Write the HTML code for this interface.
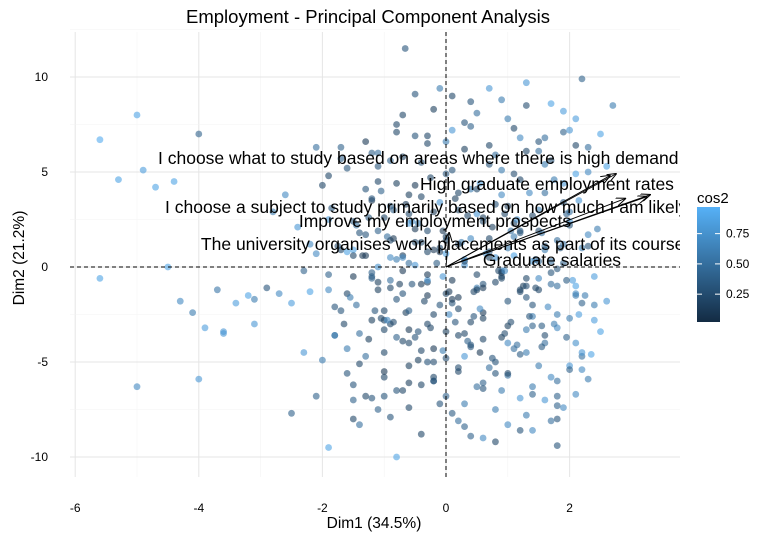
<!DOCTYPE html>
<html><head><meta charset="utf-8">
<style>
body{margin:0;background:#fff;font-family:"Liberation Sans",sans-serif;}
svg text{font-family:"Liberation Sans",sans-serif;}
</style></head>
<body>
<svg id="chart" width="776" height="542" xmlns="http://www.w3.org/2000/svg">
<rect width="776" height="542" fill="#fff"/>
<g id="grid"></g>
<g id="points"></g>
<g id="axes"></g>
<g id="arrows"></g>
<text x="368" y="23" font-size="18.5" text-anchor="middle" fill="#000">Employment - Principal Component Analysis</text>
<text x="374" y="528" font-size="15.5" text-anchor="middle" fill="#000">Dim1 (34.5%)</text>
<text transform="translate(24,258) rotate(-90)" font-size="15.5" text-anchor="middle" fill="#000">Dim2 (21.2%)</text>
<g>
<defs><linearGradient id="lg" x1="0" y1="1" x2="0" y2="0"><stop offset="0" stop-color="#132B43"/><stop offset="1" stop-color="#56B1F7"/></linearGradient></defs>
<text x="697" y="203" font-size="15" fill="#000">cos2</text>
<rect x="697" y="207" width="23" height="115" fill="url(#lg)"/>
<g id="legticks"></g>
</g>
</svg>
<script>
const xTicks=[-6,-4,-2,0,2];
const yTicks=[-10,-5,0,5,10];
const legendTicks=[0.25,0.5,0.75];
const varNames=["I choose what to study based on areas where there is high demand for employment","High graduate employment rates","I choose a subject to study primarily based on how much I am likely to earn","Improve my employment prospects","The university organises work placements as part of its courses","Graduate salaries"];
const varX=[2.75,2.65,3.3,0.05,3.25,2.9];
const varY=[4.9,4.8,3.8,1.8,3.7,3.6];
const labelX=[158,547,165,435,447,552];
const labelY=[164,190,213,227,250,266];
const labelAnchor=["start","middle","start","middle","middle","middle"];
const ptX=[-5.6,-5.6,-5.0,-5.0,-5.3,-4.7,-4.0,-4.0,-4.4,-3.9,-3.6,-3.6,-4.9,-4.5,-4.3,-4.1,-3.7,-3.4,-3.2,-3.1,-3.1,-2.9,-2.7,-2.5,-2.5,-2.3,-2.2,-2.1,-2.0,-1.9,-1.9,-1.8,-1.7,-1.6,-1.5,-1.5,-1.4,-1.3,-1.2,-1.2,-1.1,-1.0,-1.0,-0.9,-0.8,-0.8,-0.7,-0.66,-0.6,-0.5,-0.4,-0.3,-0.2,-0.1,0.0,0.1,0.2,0.3,0.4,0.5,0.6,0.7,0.8,0.9,1.0,1.1,1.2,1.3,1.4,1.5,1.6,1.7,1.8,1.9,2.0,2.1,2.2,2.3,2.4,2.5,2.6,2.7,2.2,1.8,
-2.6,-2.4,-2.1,-1.9,-1.7,-1.5,-1.3,-1.1,-0.9,-0.7,-0.5,-0.3,-0.1,0.1,0.3,0.5,0.7,0.9,1.1,1.3,1.5,1.7,1.9,2.1,2.3,2.5,
-1.8,-1.6,-1.4,-1.2,-1.0,-0.8,-0.6,-0.4,-0.2,0.0,0.2,0.4,0.6,0.8,1.0,1.2,1.4,1.6,1.8,2.0,2.2,2.4,
-1.4,-1.2,-1.0,-0.8,-0.6,-0.4,-0.2,0.0,0.2,0.4,0.6,0.8,1.0,1.2,1.4,1.6,1.8,2.0,
-2.0,-1.7,-1.5,-1.3,-1.1,-0.9,-0.7,-0.5,-0.3,-0.1,0.1,0.3,0.5,0.7,0.9,1.1,1.3,1.5,1.7,1.9,2.1,2.3,2.6,
-1.6,-1.3,-1.0,-0.8,-0.6,-0.4,-0.2,0.0,0.2,0.4,0.6,0.8,1.0,1.2,1.4,1.6,1.8,2.0,2.2,
-1.2,-0.9,-0.6,-0.3,0.0,0.3,0.6,0.9,1.2,1.5,1.8,2.1,
-0.8,-0.5,-0.2,0.1,0.4,0.7,1.0,1.3,1.6,1.9,
-2.8,-2.2,-1.9,-1.6,-1.1,-0.7,-0.3,0.2,0.6,1.0,1.4,1.9,2.3,
-0.9,-0.4,0.3,0.8,1.3,1.7,2.1,
-0.5,0.0,0.5,1.1,1.6,2.0,
-1.0,-0.6,-0.1,0.4,0.9,1.4,
-0.3,0.2,0.6,1.0,1.5,-0.7,-1.1,-1.5,0.1,0.5,0.9,1.3,-0.2,-0.6,
-1.9,-1.75,-1.55,-1.35,-1.15,-0.95,-0.75,-0.55,-0.35,-0.15,0.05,0.25,0.45,0.65,0.85,1.05,1.25,1.45,1.65,1.85,2.05,2.25,
-1.85,-1.65,-1.45,-1.25,-1.05,-0.85,-0.65,-0.45,-0.25,-0.05,0.15,0.35,0.55,0.75,0.95,1.15,1.35,1.55,1.75,1.95,2.15,2.35,
-1.7,-1.5,-1.3,-1.1,-0.9,-0.7,-0.5,-0.3,-0.1,0.1,0.3,0.5,0.7,0.9,1.1,1.3,1.5,1.7,1.9,2.1,2.3,
-1.6,-1.4,-1.2,-1.0,-0.8,-0.6,-0.4,-0.2,0.0,0.2,0.4,0.6,0.8,1.0,1.2,1.4,1.6,1.8,2.0,2.2,
-1.45,-1.25,-1.05,-0.85,-0.65,-0.45,-0.25,-0.05,0.15,0.35,0.55,0.75,0.95,1.15,1.35,1.55,1.75,1.95,2.15,2.45,
-1.3,-1.1,-0.9,-0.7,-0.5,-0.3,-0.1,0.1,0.3,0.5,0.7,0.9,1.1,1.3,1.5,1.7,1.9,2.1,
-1.2,-1.0,-0.8,-0.6,-0.4,-0.2,0.0,0.2,0.4,0.6,0.8,1.0,1.2,1.4,1.6,1.8,2.0,
-1.1,-0.85,-0.55,-0.3,-0.05,0.2,0.45,0.7,0.95,1.2,1.45,1.7,1.95,2.2,
-2.3,-2.1,-1.8,-1.5,-1.2,-0.9,-0.6,-0.3,0.0,0.3,0.6,0.9,1.2,1.5,1.8,2.1,2.4,
-0.95,-0.7,-0.45,-0.2,0.05,0.3,0.55,0.8,1.05,1.3,1.55,1.8];
const ptY=[6.7,-0.6,8.0,-6.3,4.6,4.2,7.0,-5.9,4.5,-3.2,-3.4,-3.5,5.1,0.0,-1.8,-2.4,-1.2,-1.9,-1.5,-3.0,-1.7,-1.1,-1.4,-7.7,-1.9,-4.5,-1.3,-6.8,-4.9,-1.2,-9.5,-3.6,-2.3,-4.3,-6.2,-8.0,-8.3,-6.8,-0.5,-2.8,-7.5,-4.5,-6.8,-3.0,-6.5,-10.0,-6.5,11.5,-7.4,-3.7,-6.2,-3.0,-5.0,-7.2,-6.8,-7.7,-8.1,-7.2,-8.9,-6.3,-9.0,-5.3,-7.5,-6.5,-8.3,-4.3,-6.9,-4.5,-8.6,-5.2,-7.0,-5.8,-9.4,-7.4,-5.2,-4.0,9.9,-5.9,-2.8,-3.4,-1.8,8.5,-4.7,-8.0,
3.8,2.1,6.3,2.5,6.3,0.9,4.1,6.0,5.6,8.0,9.1,6.5,9.4,9.0,7.6,8.1,9.4,8.8,7.3,9.7,6.6,8.6,7.1,7.8,6.3,7.0,
-2.1,-1.4,-3.5,-0.6,-2.8,-1.7,-4.0,-0.9,-2.5,-3.4,-1.6,-4.1,-2.4,-0.8,-3.1,-1.3,-2.0,-3.6,-1.0,-2.7,-1.9,-0.5,
1.8,3.5,2.6,0.4,3.8,1.3,2.9,0.7,3.9,1.5,2.6,0.5,3.2,1.9,2.7,0.9,1.4,2.2,
4.3,5.7,2.4,6.6,4.5,3.2,5.8,4.3,6.9,3.4,5.1,6.2,4.1,5.4,3.8,4.9,6.1,3.0,5.6,4.4,6.4,5.0,5.3,
-5.6,-4.7,-5.8,-3.7,-5.2,-4.4,-6.0,-4.8,-5.5,-4.2,-6.1,-5.0,-5.7,-4.6,-6.3,-4.0,-3.2,-5.4,-4.5,
-0.3,-1.1,0.2,-0.8,-1.4,0.1,-0.9,-0.2,-1.2,-0.6,-0.1,-1.0,
7.5,6.9,8.3,7.2,8.7,6.4,7.8,8.5,6.8,8.2,
2.9,1.2,4.8,0.8,5.3,0.6,1.9,3.0,2.4,1.0,0.3,3.4,1.7,
-7.9,-8.8,-8.4,-9.2,-7.8,-8.1,-6.7,
2.0,1.6,2.8,2.3,1.1,2.9,
-2.3,-3.3,-2.0,-2.9,-3.7,-2.6,
-1.5,-2.2,-1.1,-1.8,-1.2,0.5,1.9,0.6,-0.7,-0.4,-0.5,-0.6,0.9,2.3,
-0.4,1.1,-1.6,0.6,-2.3,1.6,-0.9,2.4,-1.8,0.2,-1.3,1.3,-2.6,0.7,-0.2,1.9,-1.0,0.4,-2.1,1.0,-0.7,-1.5,
3.1,-3.0,2.2,-3.8,4.0,-2.9,3.3,-3.4,4.7,-4.4,3.6,-3.9,4.4,-4.8,2.8,-4.1,3.9,-3.1,4.6,-3.7,3.5,-4.6,
0.9,-0.5,1.7,-1.2,0.5,-0.2,1.3,-0.7,0.8,-1.9,0.3,-1.1,1.5,-0.3,0.6,-1.6,1.9,-0.9,0.2,-1.4,1.1,
5.2,-5.1,6.0,-5.5,7.1,-6.1,5.5,-5.8,6.6,-5.3,7.4,-6.4,5.9,-5.6,6.8,-6.7,5.4,-6.0,7.2,-5.4,
-2.0,2.6,-2.7,3.0,-2.4,2.3,-3.2,1.9,-2.9,2.7,-2.2,2.1,-3.5,2.5,-2.6,1.8,-3.0,2.8,-2.5,2.0,
0.6,-0.8,1.4,-1.4,0.1,-0.4,1.0,-1.7,0.4,-1.2,0.8,-0.6,1.6,-1.0,0.3,-0.3,1.2,-1.5,
-6.9,-3.3,4.4,-2.3,3.7,-4.3,4.9,-3.6,4.1,-2.7,3.3,-4.0,4.6,-3.1,3.9,-2.5,2.4,
0.0,1.5,-0.9,0.8,-0.5,1.2,-1.3,0.5,-0.2,1.8,-1.1,0.3,-0.7,1.0,
-0.2,0.7,-3.6,-7.0,3.6,-0.7,2.8,-5.0,1.4,-4.7,-3.8,5.1,-8.6,6.1,-7.3,4.9,-2.0,
-2.8,-3.9,-4.9,-6.0,-2.5,-3.5,-4.5,-5.6,-2.9,-3.3,-4.2,-6.8];
const ptCos=[0.95,0.9,0.9,0.7,0.9,0.9,0.4,0.8,0.9,0.85,0.8,0.8,0.85,0.9,0.7,0.6,0.55,0.85,0.9,0.8,0.6,0.3,0.7,0.4,0.85,0.8,0.9,0.4,0.6,0.7,0.9,0.5,0.3,0.6,0.3,0.2,0.5,0.2,0.3,0.15,0.4,0.2,0.3,0.2,0.3,0.9,0.2,0.3,0.2,0.3,0.2,0.2,0.25,0.3,0.4,0.35,0.5,0.6,0.4,0.5,0.7,0.5,0.6,0.6,0.7,0.5,0.8,0.6,0.7,0.6,0.8,0.7,0.3,0.7,0.8,0.75,0.4,0.6,0.85,0.9,0.8,0.6,0.5,0.3,
0.7,0.8,0.5,0.8,0.4,0.9,0.3,0.5,0.4,0.2,0.3,0.2,0.6,0.2,0.3,0.5,0.8,0.6,0.2,0.8,0.3,0.9,0.4,0.85,0.5,0.9,
0.3,0.2,0.5,0.4,0.15,0.3,0.2,0.1,0.2,0.15,0.1,0.3,0.1,0.2,0.15,0.2,0.3,0.25,0.5,0.6,0.4,0.85,
0.3,0.1,0.2,0.6,0.15,0.2,0.1,0.9,0.2,0.7,0.15,0.8,0.1,0.3,0.2,0.6,0.5,0.3,
0.2,0.4,0.3,0.1,0.2,0.3,0.15,0.1,0.2,0.8,0.3,0.15,0.2,0.3,0.7,0.25,0.2,0.6,0.3,0.8,0.2,0.7,0.9,
0.3,0.5,0.2,0.4,0.15,0.2,0.3,0.25,0.2,0.3,0.4,0.3,0.5,0.35,0.6,0.5,0.7,0.4,0.8,
0.4,0.2,0.5,0.1,0.2,0.8,0.3,0.6,0.2,0.7,0.3,0.9,
0.2,0.3,0.15,0.8,0.3,0.2,0.6,0.25,0.5,0.85,
0.6,0.7,0.2,0.9,0.3,0.1,0.25,0.15,0.2,0.6,0.8,0.3,0.7,
0.3,0.2,0.4,0.2,0.6,0.5,0.7,
0.1,0.2,0.8,0.15,0.3,0.5,
0.2,0.1,0.3,0.2,0.15,0.6,
0.1,0.2,0.1,0.3,0.2,0.7,0.4,0.2,0.1,0.2,0.15,0.2,0.1,0.9,
0.4,0.2,0.6,0.1,0.3,0.5,0.15,0.7,0.2,0.35,0.1,0.6,0.3,0.8,0.2,0.5,0.15,0.4,0.7,0.3,0.85,0.6,
0.3,0.2,0.5,0.15,0.4,0.25,0.1,0.3,0.2,0.6,0.15,0.4,0.8,0.3,0.2,0.5,0.7,0.35,0.6,0.4,0.8,0.9,
0.2,0.1,0.3,0.15,0.7,0.1,0.2,0.8,0.1,0.3,0.15,0.6,0.2,0.1,0.9,0.3,0.2,0.5,0.4,0.7,0.3,
0.3,0.2,0.4,0.1,0.2,0.15,0.3,0.2,0.6,0.25,0.4,0.3,0.5,0.2,0.7,0.4,0.6,0.5,0.8,0.7,
0.5,0.3,0.2,0.4,0.15,0.6,0.2,0.1,0.3,0.2,0.7,0.15,0.25,0.8,0.3,0.5,0.6,0.4,0.85,0.6,
0.1,0.15,0.2,0.3,0.8,0.1,0.2,0.1,0.7,0.15,0.3,0.2,0.6,0.25,0.4,0.3,0.5,0.6,
0.3,0.2,0.15,0.4,0.2,0.1,0.3,0.2,0.6,0.15,0.3,0.7,0.2,0.4,0.5,0.6,0.8,0.75,
0.1,0.3,0.2,0.8,0.1,0.2,0.15,0.7,0.3,0.2,0.5,0.35,0.6,0.4,
0.7,0.6,0.4,0.3,0.5,0.2,0.3,0.15,0.8,0.2,0.6,0.3,0.5,0.4,0.9,0.6,0.7,
0.2,0.15,0.3,0.7,0.2,0.1,0.3,0.25,0.6,0.35,0.4,0.5];
const NS='http://www.w3.org/2000/svg';
const X0=446,SX=61.8,Y0=267,SY=19;
const xs=v=>X0+v*SX, ys=v=>Y0-v*SY;
const L=70,R=680,T=32,B=477;
function mk(t,a,p){const e=document.createElementNS(NS,t);for(const k in a)e.setAttribute(k,a[k]);p.appendChild(e);return e;}
function col(c){const a=[0x13,0x2B,0x43],b=[0x56,0xB1,0xF7];return 'rgb('+a.map((v,i)=>Math.round(v+(b[i]-v)*c)).join(',')+')';}
const grid=document.getElementById('grid');
for(let v=-6;v<=2.5;v+=1){const e=mk('line',{x1:xs(v),x2:xs(v),y1:T,y2:B,stroke:(v%2===0)?'#e5e5e5':'#f3f3f3','stroke-width':(v%2===0)?1:0.6},grid);

}
for(let v=-10;v<=12.5;v+=2.5){const e=mk('line',{x1:L,x2:R,y1:ys(v),y2:ys(v),stroke:(v%5===0)?'#e5e5e5':'#f3f3f3','stroke-width':(v%5===0)?1:0.6},grid);

}
const pts=document.getElementById('points');
for(let i=0;i<ptX.length;i++){const c=mk('circle',{cx:xs(ptX[i]),cy:ys(ptY[i]),r:3.4,fill:col(ptCos[i]),'fill-opacity':0.6},pts);

}
const ax=document.getElementById('axes');
let e=mk('line',{x1:L,x2:R,y1:ys(0),y2:ys(0),stroke:'#000','stroke-dasharray':'4,3'},ax);


e=mk('line',{x1:xs(0),x2:xs(0),y1:T,y2:B,stroke:'#000','stroke-dasharray':'4,3'},ax);


xTicks.forEach(v=>{const t=mk('text',{x:xs(v),y:512,'font-size':12,'text-anchor':'middle',fill:'#000'},ax);t.textContent=v;

});
yTicks.forEach(v=>{const t=mk('text',{x:48,y:ys(v)+4,'font-size':12,'text-anchor':'end',fill:'#000'},ax);t.textContent=v;

});
const ar=document.getElementById('arrows');
const defs=mk('defs',{},ar);
const m=mk('marker',{id:'ah',markerWidth:10,markerHeight:8,refX:9,refY:4,orient:'auto',markerUnits:'userSpaceOnUse'},defs);
mk('path',{d:'M0,0 L10,4 L0,8',fill:'none',stroke:'#000','stroke-width':1},m);
const clip=mk('clipPath',{id:'pc'},defs);mk('rect',{x:L,y:T,width:R-L,height:B-T},clip);
const ag=mk('g',{'clip-path':'url(#pc)'},ar);
for(let i=0;i<varNames.length;i++){const l=mk('line',{x1:xs(0),y1:ys(0),x2:xs(varX[i]),y2:ys(varY[i]),stroke:'#000','stroke-width':0.9,'marker-end':'url(#ah)'},ag);


const t=mk('text',{x:labelX[i],y:labelY[i],'font-size':17.5,'text-anchor':labelAnchor[i],fill:'#000'},ag);t.textContent=varNames[i];

}
const lt=document.getElementById('legticks');
legendTicks.forEach(v=>{const y=322-(v-0.02)/0.95*115;
mk('line',{x1:697,x2:702,y1:y,y2:y,stroke:'#fff'},lt);mk('line',{x1:715,x2:720,y1:y,y2:y,stroke:'#fff'},lt);
const t=mk('text',{x:726,y:y+4,'font-size':12,fill:'#000'},lt);t.textContent=v.toFixed(2);

});
</script>
</body></html>
